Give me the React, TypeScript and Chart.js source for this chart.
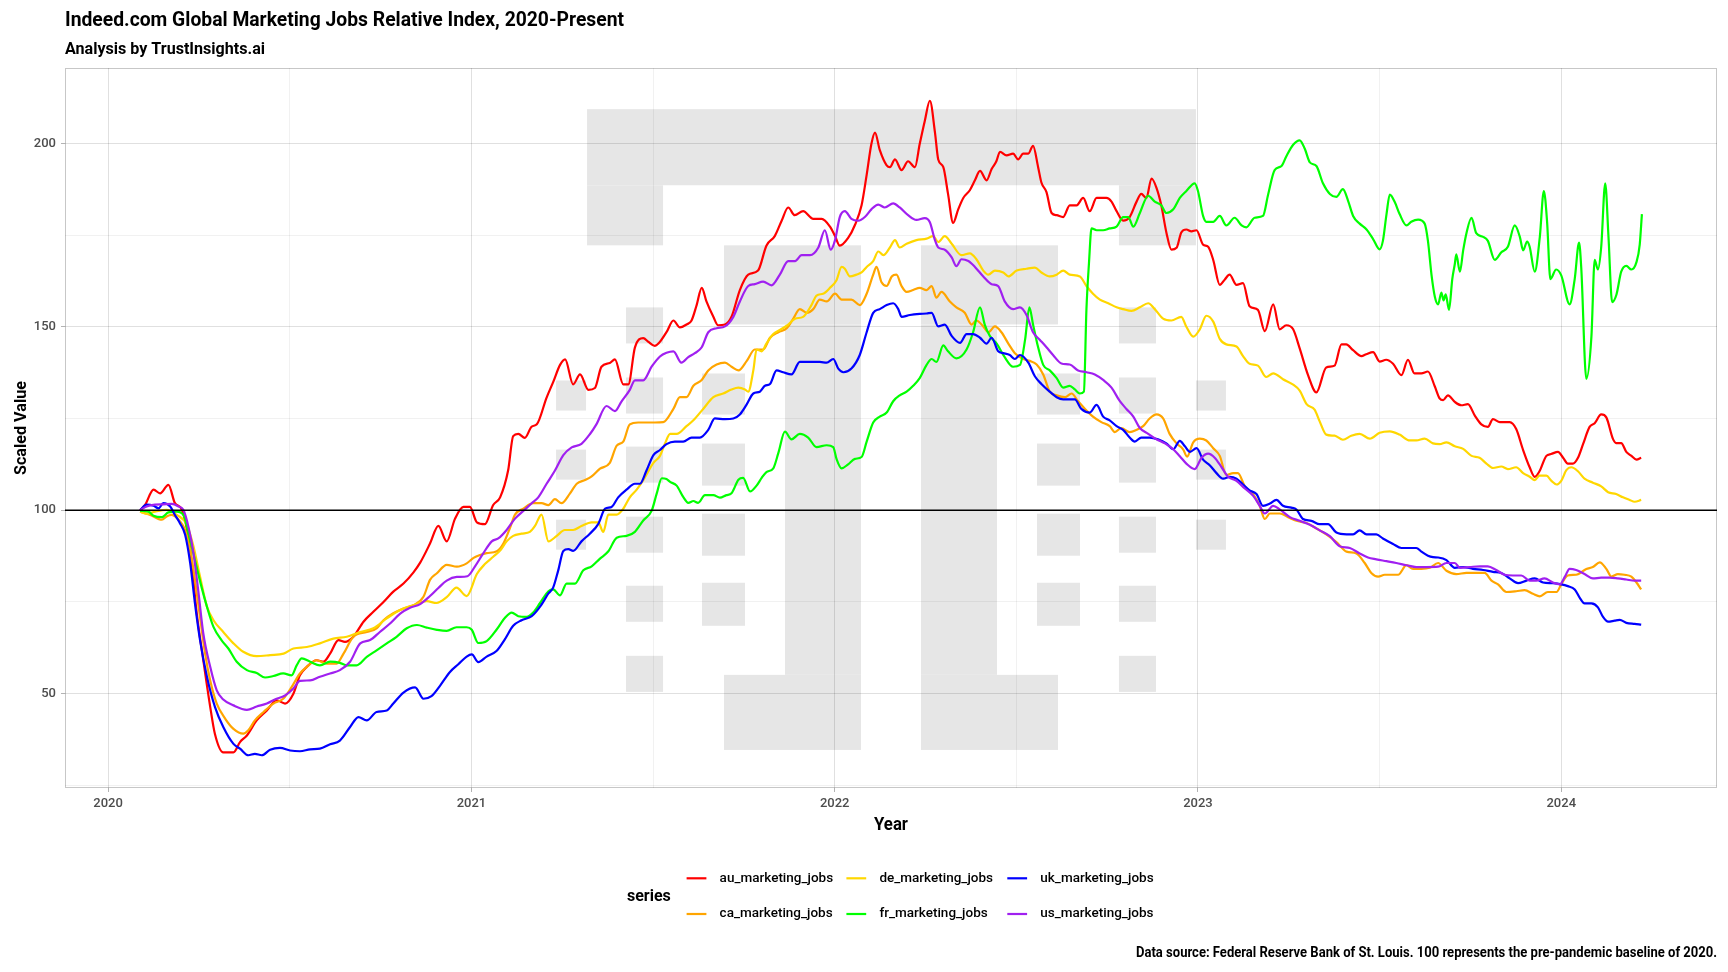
import React, { useEffect, useRef } from "react";
import { Chart, registerables } from "chart.js";

Chart.register(...registerables);

// ---------- data ----------
const BASE_YEAR = 2020;
const yearTicks = [2020, 2021, 2022, 2023, 2024];
const valueTicks = [50, 100, 150, 200];
const BASELINE = 100;

const seriesNames = [
  "au_marketing_jobs",
  "ca_marketing_jobs",
  "de_marketing_jobs",
  "fr_marketing_jobs",
  "uk_marketing_jobs",
  "us_marketing_jobs",
];
const seriesColors = ["#ff0000", "#ffa500", "#ffd700", "#00ff00", "#0000ff", "#a020f0"];

// [years since 2020-01-01, scaled value]
const au = [[0.088,100],[0.102,101.5],[0.125,105.6],[0.143,104.6],[0.166,106.9],[0.184,101.9],[0.203,100.1],[0.226,89.2],[0.244,71.9],[0.262,59.1],[0.281,46.4],[0.294,39],[0.317,34],[0.345,34],[0.363,36.8],[0.382,38.6],[0.409,42.7],[0.437,45.4],[0.464,48.2],[0.487,47.3],[0.51,50],[0.528,55],[0.547,57.3],[0.574,59.1],[0.593,58.7],[0.611,60.9],[0.634,64.6],[0.652,64.1],[0.675,65.5],[0.703,69.6],[0.73,72.3],[0.758,75],[0.785,77.8],[0.813,80],[0.84,83],[0.859,85.7],[0.886,90.9],[0.909,95.7],[0.932,91.5],[0.955,97.7],[0.978,100.9],[0.996,100.9],[1.015,96.7],[1.037,96.2],[1.06,101.4],[1.079,103.5],[1.101,110.8],[1.115,120.2],[1.129,120.8],[1.147,119.7],[1.166,122.8],[1.18,123.4],[1.207,130.7],[1.225,134.9],[1.244,139.6],[1.258,141.1],[1.28,134.3],[1.299,137],[1.322,132.8],[1.34,133.3],[1.358,139.1],[1.381,140.1],[1.395,141.1],[1.418,134.3],[1.432,134.3],[1.45,144.3],[1.473,146.9],[1.487,145.9],[1.505,144.8],[1.537,148.5],[1.556,151.7],[1.574,149.8],[1.592,150.6],[1.606,151.7],[1.62,155.9],[1.634,160.6],[1.647,156.9],[1.666,152.7],[1.679,150.4],[1.698,150.6],[1.716,152.7],[1.739,160],[1.762,164.2],[1.789,165.3],[1.812,172.1],[1.835,174.7],[1.854,178.9],[1.872,182.5],[1.89,180.4],[1.913,181.5],[1.941,179.4],[1.964,179.4],[1.987,177.3],[2.001,174.7],[2.014,172.1],[2.037,174.2],[2.056,177.8],[2.074,183.1],[2.088,191.4],[2.101,199.8],[2.111,202.9],[2.124,198.2],[2.143,194],[2.152,193.5],[2.166,195.6],[2.184,192.7],[2.202,195.1],[2.221,193.5],[2.234,199.8],[2.248,206.1],[2.262,211.6],[2.276,203],[2.285,195.6],[2.299,193.5],[2.312,186.2],[2.326,178.3],[2.34,182],[2.354,185.1],[2.372,187.2],[2.386,189.9],[2.4,192.5],[2.418,189.9],[2.432,193],[2.445,195.1],[2.455,197.7],[2.473,196.7],[2.491,197.2],[2.505,195.6],[2.519,197.2],[2.533,197.2],[2.546,199.3],[2.56,193.5],[2.569,189.3],[2.583,186.7],[2.597,181],[2.611,180.4],[2.629,179.9],[2.647,183.1],[2.666,183.1],[2.684,185.1],[2.702,181.5],[2.721,185.1],[2.748,185.1],[2.762,184.1],[2.776,181.5],[2.794,178.9],[2.812,179.9],[2.831,184.1],[2.844,186.2],[2.858,185.1],[2.872,190.4],[2.886,187.8],[2.899,183.1],[2.913,175.7],[2.927,171],[2.941,171.5],[2.954,175.7],[2.968,176.5],[2.982,176],[2.996,176.3],[3.014,172.4],[3.028,171.8],[3.042,168.2],[3.06,161.4],[3.074,162.9],[3.087,164.2],[3.106,161.4],[3.124,161.9],[3.142,155.6],[3.165,154.6],[3.184,148.8],[3.207,156.1],[3.225,149.3],[3.243,150.4],[3.262,149.3],[3.28,144.1],[3.303,136.8],[3.326,132.1],[3.353,138.9],[3.376,139.4],[3.395,145.2],[3.408,145.2],[3.427,143.6],[3.45,142],[3.463,142.5],[3.482,143.1],[3.5,140.5],[3.518,141],[3.537,139.9],[3.56,136.8],[3.578,141],[3.596,137.3],[3.615,137.3],[3.633,137.8],[3.652,133.7],[3.665,130.5],[3.675,130],[3.688,131.3],[3.707,129.5],[3.725,128.6],[3.743,128.9],[3.762,125.8],[3.78,123.4],[3.798,122.7],[3.812,124.8],[3.831,124],[3.858,124],[3.876,122.1],[3.895,116.4],[3.913,111.7],[3.927,109.1],[3.94,110.6],[3.959,114.8],[3.972,115.3],[3.991,115.9],[4.005,114.3],[4.018,112.7],[4.032,112.7],[4.046,114.3],[4.06,118],[4.078,122.7],[4.092,123.7],[4.11,126.1],[4.124,125.3],[4.142,119.5],[4.151,118.3],[4.165,118.3],[4.179,115.9],[4.193,114.8],[4.207,113.8],[4.22,114.3]];

const ca = [[0.088,99.6],[0.116,98.7],[0.148,97.4],[0.161,98.3],[0.175,98.7],[0.198,96.9],[0.212,94.6],[0.226,89.2],[0.239,81],[0.253,70.9],[0.267,60.9],[0.281,53.6],[0.299,47.3],[0.322,43.2],[0.345,40.4],[0.372,39.1],[0.386,40],[0.404,42.7],[0.428,45],[0.455,47.3],[0.482,48.6],[0.505,51.8],[0.528,55.5],[0.547,57.3],[0.574,59.1],[0.602,58.2],[0.629,58.2],[0.648,60.9],[0.675,65.5],[0.712,66.8],[0.739,67.8],[0.758,70],[0.785,71.9],[0.813,73.2],[0.84,74.1],[0.868,76.4],[0.886,81],[0.905,82.8],[0.932,85.1],[0.96,84.6],[0.987,85.5],[1.006,87],[1.024,87.8],[1.042,88.3],[1.07,88.8],[1.088,90.9],[1.106,95.1],[1.12,98.8],[1.143,100.4],[1.17,101.9],[1.193,101.9],[1.212,101.4],[1.23,103],[1.248,101.9],[1.271,104.5],[1.29,107.2],[1.313,108.2],[1.331,109.2],[1.354,111.3],[1.381,112.9],[1.4,117.6],[1.418,118.7],[1.436,123.4],[1.459,123.9],[1.482,123.9],[1.505,123.9],[1.528,124],[1.556,127.6],[1.574,130.8],[1.592,130.8],[1.611,133.9],[1.634,135.5],[1.652,138.1],[1.675,139.7],[1.698,140.2],[1.716,139.1],[1.735,138.1],[1.758,140.7],[1.78,143.8],[1.803,143.8],[1.822,147],[1.845,148.5],[1.868,149.6],[1.886,152.2],[1.904,154.8],[1.923,153.8],[1.941,154.8],[1.959,157.4],[1.978,156.9],[2.001,159],[2.019,157.4],[2.046,157.4],[2.069,155.9],[2.088,159],[2.106,164.2],[2.115,166.3],[2.129,162.1],[2.143,161.1],[2.157,163.7],[2.17,164.2],[2.184,161.1],[2.198,159.5],[2.216,160],[2.234,160.6],[2.253,160],[2.267,161.1],[2.28,157.9],[2.294,159.5],[2.317,156.9],[2.335,155.3],[2.358,153.8],[2.377,150.6],[2.39,151.7],[2.409,150.1],[2.423,148.5],[2.441,150.1],[2.459,148.5],[2.478,145.4],[2.496,142.8],[2.519,141.2],[2.537,140.7],[2.556,139.7],[2.574,137],[2.592,132.3],[2.611,131.3],[2.634,130.8],[2.652,131.8],[2.67,129.7],[2.689,127.6],[2.711,125.5],[2.734,124],[2.757,122.9],[2.771,121.3],[2.789,122.4],[2.812,121.3],[2.831,121.9],[2.849,122.9],[2.867,125],[2.886,126.1],[2.904,125],[2.922,120.8],[2.941,118.2],[2.959,116.6],[2.97,114.6],[2.987,118.5],[3.005,119.5],[3.023,119],[3.042,116.9],[3.06,114.8],[3.078,109.6],[3.097,110.1],[3.11,110.1],[3.129,106.5],[3.152,104.4],[3.17,101.2],[3.184,97.6],[3.198,99.1],[3.225,99.1],[3.248,98.1],[3.271,97.1],[3.299,96.5],[3.326,95],[3.353,93.4],[3.381,91.3],[3.409,88.7],[3.436,88.2],[3.459,85.6],[3.477,82.9],[3.496,81.9],[3.514,82.4],[3.532,82.4],[3.551,82.4],[3.574,85],[3.592,84],[3.615,84],[3.638,84.3],[3.661,85.6],[3.684,83.5],[3.711,82.6],[3.739,82.9],[3.766,82.9],[3.789,82.9],[3.808,80.8],[3.826,79.8],[3.849,77.7],[3.876,77.9],[3.899,78.2],[3.922,77.2],[3.941,76.5],[3.963,77.7],[3.987,77.7],[4,79.8],[4.018,82.2],[4.041,82.4],[4.069,84],[4.087,84.5],[4.106,85.8],[4.124,84],[4.138,81.9],[4.156,82.6],[4.174,82.4],[4.193,81.9],[4.207,80.3],[4.22,78.4]];

const de = [[0.088,99.6],[0.106,99],[0.129,99.6],[0.161,100.1],[0.189,98.7],[0.217,96],[0.235,90.1],[0.253,81.9],[0.272,73.7],[0.29,70],[0.317,66.8],[0.345,63.7],[0.372,61.4],[0.409,60.2],[0.446,60.5],[0.483,60.9],[0.51,62.3],[0.547,62.7],[0.583,63.7],[0.62,65],[0.657,65.5],[0.694,66.8],[0.73,67.8],[0.767,70.5],[0.804,72.8],[0.84,74.1],[0.877,75.2],[0.904,74.7],[0.932,76.3],[0.959,78.9],[0.987,76.6],[1.015,82.6],[1.037,85.3],[1.06,87.3],[1.079,89],[1.097,91.5],[1.115,93],[1.138,93.6],[1.161,94.1],[1.175,95.7],[1.193,98.8],[1.212,91.5],[1.235,93],[1.257,94.6],[1.28,94.6],[1.303,95.7],[1.331,96.7],[1.349,96.7],[1.363,94.1],[1.377,98.8],[1.4,98.8],[1.418,100.4],[1.436,103.5],[1.455,105.6],[1.473,108.2],[1.501,112.9],[1.519,114.8],[1.533,118.2],[1.547,120.8],[1.565,120.8],[1.592,122.9],[1.611,124.5],[1.638,127.6],[1.666,130.8],[1.693,131.8],[1.716,132.9],[1.735,133.4],[1.753,132.9],[1.762,132.3],[1.776,138.1],[1.785,143.8],[1.799,143.3],[1.812,145.4],[1.831,148],[1.849,149.1],[1.872,150.6],[1.891,152.2],[1.913,152.7],[1.936,155.9],[1.95,158.5],[1.968,159],[1.987,160.6],[2.005,162.7],[2.019,166.3],[2.028,165.8],[2.042,163.7],[2.06,164.2],[2.074,164.8],[2.088,166.3],[2.106,167.9],[2.12,170.5],[2.134,169.5],[2.152,171.6],[2.166,173.6],[2.179,171.6],[2.198,172.6],[2.225,173.6],[2.253,174],[2.271,174.7],[2.285,173.1],[2.303,174.7],[2.322,172.6],[2.349,169.5],[2.372,170],[2.39,168.4],[2.409,165.3],[2.423,164.2],[2.441,165.3],[2.464,164.8],[2.478,163.7],[2.501,165.3],[2.528,165.8],[2.551,166.1],[2.569,164.8],[2.592,163.7],[2.611,164.2],[2.629,165.3],[2.647,164.2],[2.675,163.7],[2.693,161.1],[2.711,159],[2.73,157.4],[2.753,156.4],[2.776,155.3],[2.794,154.8],[2.817,154.3],[2.84,155.3],[2.863,156.4],[2.881,154.8],[2.904,152.2],[2.927,151.7],[2.954,152.7],[2.968,150],[2.987,147.3],[3.005,149.3],[3.023,153],[3.042,151.4],[3.06,146.7],[3.078,145.2],[3.106,144.6],[3.124,142],[3.142,139.9],[3.165,139.4],[3.188,136.3],[3.207,137.3],[3.234,135.7],[3.262,134.2],[3.28,132.6],[3.299,128.9],[3.321,127.4],[3.335,124.2],[3.353,120.6],[3.376,120.3],[3.399,119.2],[3.422,120.3],[3.445,120.8],[3.473,119.5],[3.5,121.1],[3.528,121.5],[3.555,120.6],[3.583,119],[3.601,119],[3.624,119.5],[3.647,118.2],[3.665,118],[3.684,118.5],[3.707,117.4],[3.73,116.7],[3.753,114.8],[3.775,114.3],[3.794,112.7],[3.812,111.5],[3.835,111.9],[3.853,111.2],[3.876,111.7],[3.895,110.1],[3.913,109.1],[3.927,108.2],[3.94,109.4],[3.959,109.4],[3.973,108],[3.987,107],[4,108],[4.014,110.9],[4.028,111.7],[4.046,110.6],[4.064,108.6],[4.087,107.5],[4.11,106.5],[4.129,104.9],[4.151,104.4],[4.17,103.5],[4.188,102.8],[4.202,102.3],[4.22,102.8]];

const fr = [[0.088,99.8],[0.111,99.6],[0.125,98.5],[0.148,98.1],[0.166,99.4],[0.189,99.6],[0.207,98.7],[0.221,93.7],[0.239,86.4],[0.257,79.1],[0.272,73.7],[0.29,68.2],[0.312,64.6],[0.331,62.3],[0.354,58.7],[0.382,56.4],[0.409,55.6],[0.432,54.4],[0.455,54.8],[0.482,55.5],[0.505,55],[0.519,57.7],[0.533,59.6],[0.556,58.7],[0.583,57.7],[0.611,58.7],[0.638,58.4],[0.657,57.7],[0.684,57.7],[0.712,60],[0.739,61.8],[0.767,63.7],[0.794,65.5],[0.822,67.8],[0.85,68.7],[0.877,68],[0.905,67.4],[0.932,67.1],[0.959,68.1],[0.987,68.1],[1.001,67.4],[1.019,63.8],[1.042,64.3],[1.069,67.4],[1.092,70.6],[1.111,72.1],[1.129,71.1],[1.152,70.9],[1.17,72.1],[1.189,74.7],[1.212,77.9],[1.225,78.4],[1.244,76.8],[1.262,80],[1.285,80],[1.308,83.6],[1.331,84.7],[1.354,86.8],[1.377,88.8],[1.4,92.5],[1.427,93],[1.45,94.1],[1.473,97.2],[1.496,99.8],[1.51,104.5],[1.524,108.7],[1.537,108.5],[1.547,107.7],[1.565,106.7],[1.583,103.6],[1.597,102],[1.611,102.5],[1.624,102],[1.643,104.1],[1.666,104.1],[1.684,103.4],[1.702,104.1],[1.716,104.6],[1.735,108.3],[1.748,108.8],[1.767,105.1],[1.785,106.7],[1.799,108.8],[1.812,110.4],[1.831,111.4],[1.845,115.6],[1.863,121.4],[1.881,119.3],[1.904,120.8],[1.927,119.8],[1.95,117.2],[1.978,117.7],[1.996,117.2],[2.005,114],[2.019,111.4],[2.037,112.5],[2.056,114],[2.074,114.5],[2.088,118.7],[2.106,123.9],[2.124,125.5],[2.143,126.6],[2.161,129.7],[2.179,131.3],[2.198,132.3],[2.216,133.9],[2.234,136],[2.253,139.6],[2.267,141.2],[2.28,140.4],[2.299,144.9],[2.312,143.3],[2.335,141.4],[2.363,143.8],[2.381,148.5],[2.4,155.3],[2.413,150.6],[2.427,147.5],[2.446,145.4],[2.468,141.7],[2.491,139.1],[2.51,139.6],[2.524,146.4],[2.536,155.3],[2.546,150.6],[2.56,144.4],[2.574,139.6],[2.592,138.1],[2.611,136],[2.629,133.4],[2.647,133.9],[2.661,132.9],[2.675,131.8],[2.686,132.3],[2.693,154.8],[2.7,167.4],[2.707,176.8],[2.721,176.3],[2.739,176.3],[2.757,176.8],[2.776,177.3],[2.794,179.9],[2.808,179.9],[2.822,177.3],[2.84,181],[2.863,185.7],[2.881,184.1],[2.899,183.1],[2.913,181],[2.932,182],[2.95,185.1],[2.968,187],[2.991,189.1],[3,187],[3.014,180.2],[3.023,178.6],[3.042,178.6],[3.06,180.2],[3.078,177.6],[3.101,179.7],[3.12,177.6],[3.133,177.1],[3.156,179.7],[3.179,180.2],[3.193,186],[3.211,192.7],[3.23,193.8],[3.243,196.4],[3.262,199.6],[3.28,200.8],[3.294,198.5],[3.308,194.8],[3.326,193.8],[3.344,189.1],[3.363,186.2],[3.381,185.4],[3.399,187.5],[3.413,184.4],[3.427,180.2],[3.445,178.1],[3.464,176.5],[3.482,173.9],[3.5,171.1],[3.509,173.4],[3.519,180.7],[3.528,186],[3.542,183.9],[3.555,180.7],[3.574,177.6],[3.587,178.6],[3.606,179.2],[3.624,178.1],[3.633,173.4],[3.643,164],[3.652,158.2],[3.661,156.1],[3.67,159.3],[3.676,157.2],[3.682,158.8],[3.691,154.6],[3.7,163],[3.707,167.1],[3.711,169.7],[3.721,165],[3.73,170.8],[3.739,175.5],[3.753,179.7],[3.766,175.5],[3.785,174.5],[3.798,173.4],[3.817,168.2],[3.835,170.3],[3.853,171.8],[3.872,177.6],[3.886,174.5],[3.895,170.8],[3.906,173.2],[3.913,171.8],[3.927,165],[3.941,174.5],[3.952,187],[3.961,178.6],[3.97,163],[3.986,165.6],[4,164],[4.023,156.1],[4.037,163],[4.049,172.9],[4.055,166.1],[4.069,135.8],[4.083,147.3],[4.092,168.2],[4.101,165.6],[4.11,171.8],[4.121,189.1],[4.13,174.5],[4.14,156.7],[4.152,158.8],[4.165,165],[4.179,166.6],[4.193,165.6],[4.207,167.6],[4.216,172.4],[4.222,180.7]];

const uk = [[0.088,100],[0.106,101.5],[0.125,101.2],[0.139,100.5],[0.152,101.9],[0.171,101],[0.184,98.7],[0.198,96.4],[0.212,93.3],[0.226,85.5],[0.239,74.6],[0.253,64.6],[0.272,54.6],[0.294,46.4],[0.317,40.9],[0.345,36.3],[0.363,35],[0.386,33.2],[0.404,33.6],[0.423,33.2],[0.446,34.7],[0.473,35.2],[0.501,34.5],[0.528,34.3],[0.556,34.8],[0.583,35],[0.611,36.2],[0.638,37.2],[0.666,40.9],[0.689,43.6],[0.712,42.7],[0.739,45],[0.767,45.4],[0.785,47.3],[0.813,50.3],[0.845,51.7],[0.868,48.6],[0.89,49.3],[0.914,52.2],[0.941,55.9],[0.964,58],[0.987,60.1],[1.001,60.7],[1.019,58.6],[1.042,60.1],[1.069,61.6],[1.092,64.8],[1.115,68.5],[1.138,70],[1.166,71.1],[1.189,73.7],[1.212,77.3],[1.225,78.9],[1.239,83.6],[1.253,88.9],[1.267,89.4],[1.28,88.9],[1.303,91.5],[1.326,93.6],[1.349,96.2],[1.368,100.4],[1.386,100.9],[1.404,103.5],[1.427,105.6],[1.45,107.2],[1.464,107.2],[1.482,110.8],[1.501,115],[1.519,116.4],[1.537,118],[1.56,118.7],[1.583,118.7],[1.606,119.8],[1.629,119.8],[1.652,121.9],[1.67,125],[1.698,124.8],[1.721,125],[1.739,126.1],[1.757,128.7],[1.776,131.8],[1.794,132.3],[1.808,133.9],[1.822,134.4],[1.84,138.1],[1.858,137.6],[1.881,137],[1.904,140.4],[1.932,140.4],[1.959,140.4],[1.978,140.2],[1.996,141.2],[2.01,138.6],[2.024,137.6],[2.046,138.6],[2.069,142.3],[2.088,148.5],[2.106,153.8],[2.124,154.8],[2.143,155.9],[2.161,156.4],[2.175,154.8],[2.184,152.7],[2.207,153.2],[2.234,153.5],[2.253,153.6],[2.267,153.8],[2.285,150.1],[2.303,150.6],[2.322,147.5],[2.345,145.6],[2.363,148],[2.381,148],[2.4,147],[2.418,145.4],[2.432,147],[2.45,143.3],[2.464,142.8],[2.482,142.3],[2.496,141.2],[2.51,142.3],[2.533,140.2],[2.551,136.5],[2.569,134.4],[2.592,132.3],[2.611,130.8],[2.629,130.2],[2.647,130.2],[2.661,130.2],[2.679,127.6],[2.702,126.6],[2.721,128.7],[2.739,125.5],[2.757,124.5],[2.776,122.9],[2.794,121.9],[2.812,119.8],[2.826,118.7],[2.844,119.8],[2.867,119.8],[2.89,119.3],[2.913,118.2],[2.932,116.6],[2.95,118.9],[2.964,117.4],[2.978,115.9],[2.996,116.9],[3.014,113.8],[3.033,112.2],[3.051,110.1],[3.069,108.6],[3.088,109.1],[3.106,108.6],[3.124,107],[3.142,105.4],[3.161,104.4],[3.179,101.2],[3.198,101.8],[3.216,102.8],[3.234,101.2],[3.257,100.7],[3.271,100.2],[3.289,97.6],[3.312,97.1],[3.335,96.2],[3.358,96.2],[3.381,93.9],[3.409,93.4],[3.427,93.4],[3.445,94.5],[3.464,93.4],[3.491,93.4],[3.509,92.3],[3.537,90.8],[3.56,89.7],[3.583,89.7],[3.601,89.7],[3.615,88.7],[3.633,87.6],[3.647,87.2],[3.661,87.1],[3.684,86.4],[3.707,84.3],[3.73,84.5],[3.757,84],[3.785,83.7],[3.812,83.2],[3.835,82.9],[3.858,81.4],[3.881,80.1],[3.904,80.8],[3.927,81.4],[3.95,80.3],[3.977,80.1],[4,79.8],[4.018,79.3],[4.037,78.4],[4.051,76.1],[4.064,74.6],[4.083,74.6],[4.101,73.5],[4.115,70.9],[4.129,69.6],[4.147,69.9],[4.161,70.1],[4.179,69.3],[4.202,69],[4.22,68.8]];

const us = [[0.088,100],[0.106,101],[0.129,101.5],[0.152,101.6],[0.175,101.7],[0.194,101],[0.207,100.1],[0.221,95.5],[0.235,88.3],[0.249,77.3],[0.262,66.4],[0.281,57.3],[0.299,50.9],[0.317,48.4],[0.345,46.8],[0.382,45.6],[0.409,46.5],[0.437,47.3],[0.459,48.4],[0.487,49.5],[0.51,51.4],[0.528,53.5],[0.556,53.6],[0.583,54.6],[0.611,55.5],[0.638,56.4],[0.666,58.7],[0.694,63.7],[0.721,64.6],[0.748,66.8],[0.776,69.1],[0.804,71.8],[0.831,73.4],[0.859,74.4],[0.886,76.6],[0.909,78.8],[0.932,80.8],[0.96,81.8],[0.989,82],[1.01,84.7],[1.033,88.3],[1.056,91.5],[1.074,92.3],[1.097,94.6],[1.12,97.7],[1.143,99.8],[1.166,101.9],[1.184,103.5],[1.207,107.2],[1.23,110.8],[1.253,115],[1.276,117.1],[1.303,118.1],[1.326,120.7],[1.344,123.4],[1.372,128.4],[1.395,127],[1.413,129.6],[1.436,132.8],[1.45,135.4],[1.473,135.4],[1.496,139.1],[1.519,141.9],[1.537,142.9],[1.556,143.3],[1.578,140.2],[1.597,141.7],[1.615,142.8],[1.634,144.4],[1.652,148.5],[1.675,149.6],[1.698,150.1],[1.721,152.7],[1.739,156.9],[1.762,161.1],[1.78,161.6],[1.803,162.3],[1.826,161.3],[1.849,164.2],[1.872,167.9],[1.891,167.9],[1.909,169.5],[1.932,169.5],[1.955,171.6],[1.973,176.3],[1.989,171],[2.001,173.6],[2.014,179.9],[2.028,181.5],[2.046,179.4],[2.065,178.9],[2.083,179.9],[2.101,182],[2.12,183.3],[2.138,182.5],[2.161,183.6],[2.179,182.5],[2.202,180.4],[2.225,179.1],[2.248,179.6],[2.262,178.5],[2.276,173.6],[2.285,171.6],[2.303,171],[2.322,168.9],[2.335,166.5],[2.349,168.4],[2.368,167.9],[2.386,166.3],[2.409,163.7],[2.432,161.6],[2.45,161.1],[2.468,156.9],[2.491,154.8],[2.51,155.3],[2.528,153.2],[2.546,148.5],[2.565,146.4],[2.583,144.4],[2.601,142.3],[2.624,140],[2.647,139.7],[2.67,138.1],[2.693,137.6],[2.716,137],[2.739,135.5],[2.762,133.4],[2.785,129.7],[2.803,127.6],[2.822,125.5],[2.84,122.4],[2.863,120.8],[2.886,119.3],[2.909,118.2],[2.932,116.6],[2.95,114.7],[2.968,112.7],[2.991,111.2],[3.01,114.3],[3.028,115.4],[3.046,114.3],[3.065,111.7],[3.083,109.1],[3.106,108],[3.129,105.9],[3.152,103.9],[3.17,101.2],[3.184,99.1],[3.207,101.2],[3.225,100.2],[3.253,98.1],[3.28,97.1],[3.308,96],[3.335,94.5],[3.363,92.9],[3.39,90.2],[3.418,89.7],[3.445,88.2],[3.468,87.1],[3.491,86.6],[3.519,86.1],[3.546,85.6],[3.574,85],[3.601,84.5],[3.629,84.5],[3.661,84.6],[3.684,85.6],[3.707,85.6],[3.721,84.3],[3.748,84.5],[3.776,84.7],[3.798,84.7],[3.821,83.7],[3.844,82.4],[3.867,82.2],[3.89,82.2],[3.913,80.8],[3.931,80.8],[3.954,81.4],[3.977,80.3],[3.996,79.8],[4.01,81.9],[4.023,84],[4.041,83.7],[4.064,82.6],[4.087,81.4],[4.11,81.6],[4.133,81.6],[4.156,81.4],[4.179,81.1],[4.202,80.8],[4.22,80.8]];

const seriesData = [au, ca, de, fr, uk, us];

// ---------- watermark logo (decoration) ----------
const LOGO_BOX = { t0: 1.233, t1: 3.077, v0: 34.65, v1: 209.3 };
const LOGO_W = 670;
const LOGO_H = 640;
const logoRects = [
  [31, 0, 640, 76], [31, 76, 107, 136], [563, 76, 640, 136],
  [168, 136, 305, 215], [229, 215, 305, 565], [168, 565, 305, 640],
  [365, 136, 502, 215], [365, 215, 441, 565], [365, 565, 502, 640],
  [0, 271, 30, 301], [0, 340, 30, 370], [0, 410, 30, 440],
  [70, 198, 107, 234], [70, 268, 107, 304], [70, 337, 107, 373], [70, 407, 107, 443], [70, 476, 107, 512], [70, 546, 107, 582],
  [146, 264, 189, 305], [146, 334, 189, 376], [146, 404, 189, 446], [146, 473, 189, 516],
  [481, 264, 524, 305], [481, 334, 524, 376], [481, 404, 524, 446], [481, 473, 524, 516],
  [563, 198, 600, 234], [563, 268, 600, 304], [563, 337, 600, 373], [563, 407, 600, 443], [563, 476, 600, 512], [563, 546, 600, 582],
  [640, 271, 670, 301], [640, 340, 670, 370], [640, 410, 670, 440],
];

const TITLE = "Indeed.com Global Marketing Jobs Relative Index, 2020-Present";
const SUBTITLE = "Analysis by TrustInsights.ai";
const CAPTION = "Data source: Federal Reserve Bank of St. Louis. 100 represents the pre-pandemic baseline of 2020.";
const X_TITLE = "Year";
const Y_TITLE = "Scaled Value";
const LEGEND_TITLE = "series";

const FONT = 'Roboto, "Noto Sans", "Liberation Sans", sans-serif';

function drawText(
  ctx: CanvasRenderingContext2D, s: string, x: number, y: number, size: number, weight: string,
  color: string, align: CanvasTextAlign, baseline: CanvasTextBaseline, fitW?: number, rotate?: number
) {
  ctx.save();
  ctx.font = `${weight} ${size}px ${FONT}`;
  ctx.fillStyle = color;
  ctx.textAlign = align;
  ctx.textBaseline = baseline;
  ctx.translate(x, y);
  if (rotate) ctx.rotate(rotate);
  if (fitW) {
    const w = ctx.measureText(s).width;
    if (w > 0) ctx.scale(fitW / w, 1);
  }
  ctx.fillText(s, 0, 0);
  ctx.restore();
}

export default function App() {
  const ref = useRef<HTMLCanvasElement>(null);

  useEffect(() => {
    const canvas = ref.current;
    if (!canvas) return;

    const xs = seriesData.flat().map((p) => p[0]);
    const ys = seriesData.flat().map((p) => p[1]);
    const xMin = Math.min(...xs), xMax = Math.max(...xs);
    const yMin = Math.min(...ys), yMax = Math.max(...ys);
    const xPad = 0.05 * (xMax - xMin);
    const yPad = 0.05 * (yMax - yMin);
    const xLo = xMin - xPad, xHi = xMax + xPad;
    const yLo = yMin - yPad, yHi = yMax + yPad;

    const xTickVals: number[] = [];
    yearTicks.forEach((y) => {
      const t = y - BASE_YEAR;
      if (t >= xLo && t <= xHi) xTickVals.push(t);
      if (t + 0.5 >= xLo && t + 0.5 <= xHi) xTickVals.push(t + 0.5);
    });
    const yTickVals: number[] = [];
    valueTicks.forEach((v, i) => {
      if (v >= yLo && v <= yHi) yTickVals.push(v);
      const next = valueTicks[i + 1];
      if (next !== undefined) yTickVals.push((v + next) / 2);
    });
    if (valueTicks[0] - 25 >= yLo) yTickVals.push(valueTicks[0] - 25);

    const isMajorX = (v: number) => Math.abs(v - Math.round(v)) < 1e-6;
    const isMajorY = (v: number) => valueTicks.includes(v);

    const decor = {
      id: "decor",
      beforeDraw(chart: any) {
        const ctx = chart.ctx as CanvasRenderingContext2D;
        ctx.save();
        ctx.fillStyle = "#ffffff";
        ctx.fillRect(0, 0, chart.width, chart.height);
        const xs_ = chart.scales.x, ys_ = chart.scales.y;
        const px0 = xs_.getPixelForValue(LOGO_BOX.t0);
        const px1 = xs_.getPixelForValue(LOGO_BOX.t1);
        const py0 = ys_.getPixelForValue(LOGO_BOX.v1);
        const py1 = ys_.getPixelForValue(LOGO_BOX.v0);
        const sx = (px1 - px0) / LOGO_W, sy = (py1 - py0) / LOGO_H;
        ctx.fillStyle = "#e6e6e6";
        logoRects.forEach(([a, b, c, d]) => {
          ctx.fillRect(px0 + a * sx, py0 + b * sy, (c - a) * sx, (d - b) * sy);
        });
        ctx.restore();
      },
      afterDatasetsDraw(chart: any) {
        const ctx = chart.ctx as CanvasRenderingContext2D;
        const a = chart.chartArea;
        const yb = chart.scales.y.getPixelForValue(BASELINE);
        ctx.save();
        ctx.strokeStyle = "#000000";
        ctx.lineWidth = 1.5;
        ctx.beginPath();
        ctx.moveTo(a.left, yb);
        ctx.lineTo(a.right, yb);
        ctx.stroke();
        ctx.strokeStyle = "rgba(0,0,0,0.22)";
        ctx.lineWidth = 1;
        ctx.strokeRect(Math.round(a.left) + 0.5, Math.round(a.top) + 0.5, Math.round(a.right - a.left) - 1, Math.round(a.bottom - a.top) - 1);
        ctx.restore();
      },
      afterDraw(chart: any) {
        const ctx = chart.ctx as CanvasRenderingContext2D;
        const a = chart.chartArea;
        const cx = (a.left + a.right) / 2;
        const cy = (a.top + a.bottom) / 2;
        drawText(ctx, TITLE, a.left, 26, 20, "700", "#000", "left", "alphabetic", 559);
        drawText(ctx, SUBTITLE, a.left, 54.3, 16, "700", "#000", "left", "alphabetic", 200);
        drawText(ctx, X_TITLE, cx, a.bottom + 41.5, 18, "700", "#000", "center", "alphabetic", 34);
        drawText(ctx, Y_TITLE, 26, cy, 17, "700", "#000", "center", "alphabetic", 94, -Math.PI / 2);
        drawText(ctx, CAPTION, a.right, 957.3, 14, "700", "#000", "right", "alphabetic", 581);

        // legend
        const rowY = [878.3, 914];
        const colX = [686.6, 846.4, 1007.3];
        drawText(ctx, LEGEND_TITLE, 627, 896.5, 16, "700", "#000", "left", "middle");
        seriesNames.forEach((name, i) => {
          const col = Math.floor(i / 2), row = i % 2;
          const x = colX[col], y = rowY[row];
          ctx.save();
          ctx.strokeStyle = seriesColors[i];
          ctx.lineWidth = 2.2;
          ctx.beginPath();
          ctx.moveTo(x, y);
          ctx.lineTo(x + 19.8, y);
          ctx.stroke();
          ctx.restore();
          drawText(ctx, name, x + 33, y, 13.5, "500", "#000", "left", "middle");
        });
      },
    };

    const chart = new Chart(canvas, {
      type: "line",
      data: {
        datasets: seriesData.map((d, i) => ({
          label: seriesNames[i],
          data: d.map(([t, v]) => ({ x: t, y: v })),
          borderColor: seriesColors[i],
          backgroundColor: seriesColors[i],
          borderWidth: 2.2,
          pointRadius: 0,
          fill: false,
          cubicInterpolationMode: "monotone" as const,
          order: seriesData.length - i,
        })),
      },
      options: {
        animation: false,
        responsive: false,
        maintainAspectRatio: false,
        events: [],
        layout: { padding: { top: 68, right: 11, bottom: 0, left: 0 } },
        plugins: { legend: { display: false }, title: { display: false }, tooltip: { enabled: false } },
        scales: {
          x: {
            type: "linear",
            min: xLo,
            max: xHi,
            afterBuildTicks: (s: any) => {
              s.ticks = xTickVals.map((v) => ({ value: v }));
            },
            afterFit: (s: any) => {
              s.height = 184;
            },
            border: { display: false },
            grid: {
              color: (c: any) => (isMajorX(c.tick?.value ?? 0) ? "rgba(0,0,0,0.12)" : "rgba(0,0,0,0.055)"),
              lineWidth: 1,
              tickLength: 4,
              tickColor: (c: any) => (isMajorX(c.tick?.value ?? 0) ? "#b3b3b3" : "rgba(0,0,0,0)"),
            },
            ticks: {
              autoSkip: false,
              maxRotation: 0,
              padding: 4,
              color: "#4d4d4d",
              font: { family: FONT, size: 13, weight: "500" },
              callback: (v: any) => (isMajorX(Number(v)) ? String(BASE_YEAR + Math.round(Number(v))) : ""),
            },
          },
          y: {
            type: "linear",
            min: yLo,
            max: yHi,
            afterBuildTicks: (s: any) => {
              s.ticks = yTickVals.slice().sort((p, q) => p - q).map((v) => ({ value: v }));
            },
            afterFit: (s: any) => {
              s.width = 65;
            },
            border: { display: false },
            grid: {
              color: (c: any) => (isMajorY(c.tick?.value ?? 0) ? "rgba(0,0,0,0.12)" : "rgba(0,0,0,0.055)"),
              lineWidth: 1,
              tickLength: 4,
              tickColor: (c: any) => (isMajorY(c.tick?.value ?? 0) ? "#b3b3b3" : "rgba(0,0,0,0)"),
            },
            ticks: {
              autoSkip: false,
              padding: 5,
              color: "#4d4d4d",
              font: { family: FONT, size: 13, weight: "500" },
              callback: (v: any) => (isMajorY(Number(v)) ? String(v) : ""),
            },
          },
        },
      },
      plugins: [decor],
    } as any);

    let alive = true;
    const fonts = (document as any).fonts;
    if (fonts && fonts.load) {
      Promise.all([fonts.load(`700 20px Roboto`), fonts.load(`500 13px Roboto`)])
        .then(() => { if (alive) chart.update(); })
        .catch(() => {});
    }
    return () => {
      alive = false;
      chart.destroy();
    };
  }, []);

  return (
    <div style={{ position: "fixed", left: 0, top: 0, width: 1728, height: 972, background: "#fff" }}>
      <canvas ref={ref} width={1728} height={972} style={{ display: "block", width: 1728, height: 972 }} />
    </div>
  );
}
